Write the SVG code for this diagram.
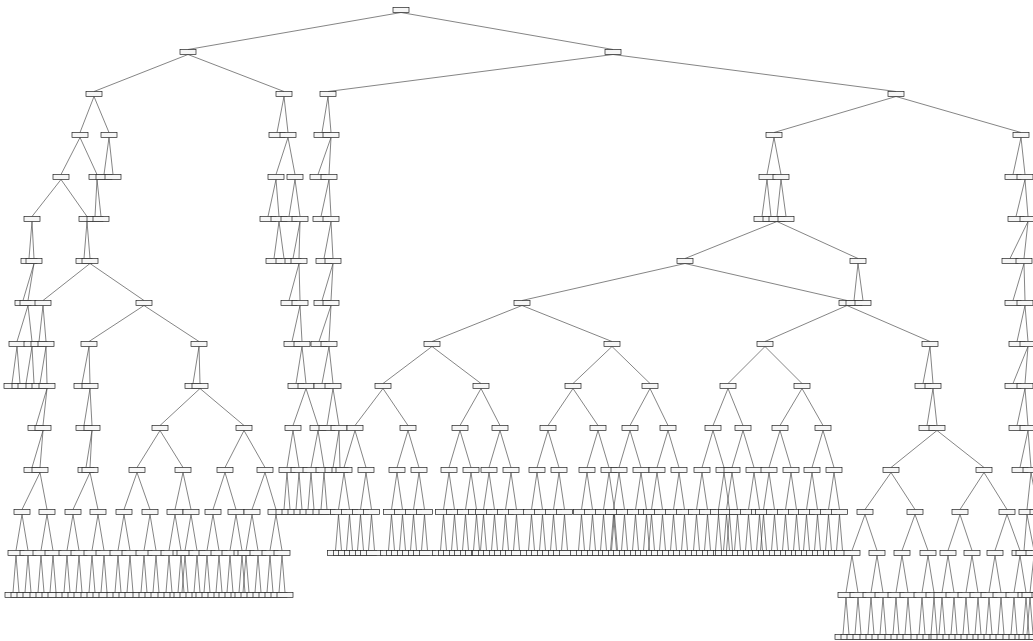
<svg xmlns="http://www.w3.org/2000/svg" width="1033" height="641" viewBox="0 0 1033 641">
<style>
.n rect{width:16px;height:5px;transform:translate(-8px,-2.5px);fill:#f6f6f6;stroke:#222;stroke-width:.7}
#edges path{fill:none;stroke:#333;stroke-width:.6}
</style>
<rect width="1033" height="641" fill="#fff"/>
<g id="edges">
<path d="M188 49.5L401 12.5L613 49.5"/>
<path d="M94 91.5L188 54.5L284 91.5"/><path d="M328 91.5L613 54.5L896 91.5"/>
<path d="M80 132.5L94 96.5L109 132.5"/><path d="M277 132.5L284 96.5L288 132.5"/><path d="M322 132.5L328 96.5L331 132.5"/><path d="M774 132.5L896 96.5L1021 132.5"/>
<path d="M61 174.5L80 137.5L97 174.5"/><path d="M104 174.5L109 137.5L113 174.5"/><path d="M276 174.5L288 137.5L295 174.5"/><path d="M318 174.5L331 137.5L329 174.5"/><path d="M767 174.5L774 137.5L781 174.5"/><path d="M1013 174.5L1021 137.5L1025 174.5"/>
<path d="M32 216.5L61 179.5L87 216.5"/><path d="M95 216.5L97 179.5L101 216.5"/><path d="M268 216.5L276 179.5L279 216.5"/><path d="M289 216.5L295 179.5L300 216.5"/><path d="M321 216.5L329 179.5L331 216.5"/><path d="M762 216.5L767 179.5L771 216.5"/><path d="M777 216.5L781 179.5L786 216.5"/><path d="M1016 216.5L1025 179.5L1028 216.5"/>
<path d="M29 258.5L32 221.5L34 258.5"/><path d="M84 258.5L87 221.5L90 258.5"/><path d="M274 258.5L279 221.5L284 258.5"/><path d="M293 258.5L300 221.5L299 258.5"/><path d="M324 258.5L331 221.5L333 258.5"/><path d="M685 258.5L777 221.5L858 258.5"/><path d="M1010 258.5L1028 221.5L1024 258.5"/>
<path d="M23 300.5L34 263.5L28 300.5"/><path d="M43 300.5L90 263.5L144 300.5"/><path d="M289 300.5L299 263.5L300 300.5"/><path d="M322 300.5L333 263.5L331 300.5"/><path d="M522 300.5L685 263.5L847 300.5"/><path d="M854 300.5L858 263.5L863 300.5"/><path d="M1013 300.5L1024 263.5L1025 300.5"/>
<path d="M17 341.5L28 305.5L32 341.5"/><path d="M39 341.5L43 305.5L46 341.5"/><path d="M89 341.5L144 305.5L199 341.5"/><path d="M292 341.5L300 305.5L302 341.5"/><path d="M319 341.5L331 305.5L329 341.5"/><path d="M432 341.5L522 305.5L612 341.5"/><path d="M765 341.5L847 305.5L930 341.5"/><path d="M1017 341.5L1025 305.5L1028 341.5"/>
<path d="M12 383.5L17 346.5L20 383.5"/><path d="M26 383.5L32 346.5L34 383.5"/><path d="M40 383.5L46 346.5L47 383.5"/><path d="M82 383.5L89 346.5L90 383.5"/><path d="M193 383.5L199 346.5L200 383.5"/><path d="M296 383.5L302 346.5L306 383.5"/><path d="M322 383.5L329 346.5L333 383.5"/><path d="M383 383.5L432 346.5L481 383.5"/><path d="M573 383.5L612 346.5L650 383.5"/><path d="M728 383.5L765 346.5L802 383.5"/><path d="M923 383.5L930 346.5L933 383.5"/><path d="M1013 383.5L1028 346.5L1025 383.5"/>
<path d="M36 425.5L47 388.5L43 425.5"/><path d="M84 425.5L90 388.5L92 425.5"/><path d="M160 425.5L200 388.5L244 425.5"/><path d="M293 425.5L306 388.5L318 425.5"/><path d="M327 425.5L333 388.5L339 425.5"/><path d="M355 425.5L383 388.5L408 425.5"/><path d="M460 425.5L481 388.5L500 425.5"/><path d="M548 425.5L573 388.5L598 425.5"/><path d="M630 425.5L650 388.5L668 425.5"/><path d="M713 425.5L728 388.5L743 425.5"/><path d="M780 425.5L802 388.5L823 425.5"/><path d="M927 425.5L933 388.5L937 425.5"/><path d="M1017 425.5L1025 388.5L1028 425.5"/>
<path d="M32 467.5L43 430.5L40 467.5"/><path d="M86 467.5L92 430.5L90 467.5"/><path d="M137 467.5L160 430.5L183 467.5"/><path d="M225 467.5L244 430.5L265 467.5"/><path d="M287 467.5L293 430.5L299 467.5"/><path d="M311 467.5L318 430.5L324 467.5"/><path d="M333 467.5L339 430.5L340 467.5"/><path d="M344 467.5L355 430.5L366 467.5"/><path d="M397 467.5L408 430.5L419 467.5"/><path d="M449 467.5L460 430.5L471 467.5"/><path d="M489 467.5L500 430.5L511 467.5"/><path d="M537 467.5L548 430.5L559 467.5"/><path d="M587 467.5L598 430.5L609 467.5"/><path d="M619 467.5L630 430.5L641 467.5"/><path d="M657 467.5L668 430.5L679 467.5"/><path d="M702 467.5L713 430.5L724 467.5"/><path d="M732 467.5L743 430.5L754 467.5"/><path d="M769 467.5L780 430.5L791 467.5"/><path d="M812 467.5L823 430.5L834 467.5"/><path d="M891 467.5L937 430.5L984 467.5"/><path d="M1020 467.5L1028 430.5L1031 467.5"/>
<path d="M22 509.5L40 472.5L47 509.5"/><path d="M73 509.5L90 472.5L98 509.5"/><path d="M124 509.5L137 472.5L150 509.5"/><path d="M175 509.5L183 472.5L191 509.5"/><path d="M213 509.5L225 472.5L236 509.5"/><path d="M252 509.5L265 472.5L276 509.5"/><path d="M284 509.5L287 472.5L290 509.5"/><path d="M296 509.5L299 472.5L302 509.5"/><path d="M308 509.5L311 472.5L314 509.5"/><path d="M321 509.5L324 472.5L327 509.5"/>
<path d="M338.5 509.5L344 472.5L349.5 509.5"/><path d="M360.5 509.5L366 472.5L371.5 509.5"/><path d="M391.5 509.5L397 472.5L402.5 509.5"/><path d="M413.5 509.5L419 472.5L424.5 509.5"/><path d="M443.5 509.5L449 472.5L454.5 509.5"/><path d="M465.5 509.5L471 472.5L476.5 509.5"/><path d="M483.5 509.5L489 472.5L494.5 509.5"/><path d="M505.5 509.5L511 472.5L516.5 509.5"/><path d="M531.5 509.5L537 472.5L542.5 509.5"/><path d="M553.5 509.5L559 472.5L564.5 509.5"/><path d="M581.5 509.5L587 472.5L592.5 509.5"/><path d="M603.5 509.5L609 472.5L614.5 509.5"/><path d="M613.5 509.5L619 472.5L624.5 509.5"/><path d="M635.5 509.5L641 472.5L646.5 509.5"/><path d="M651.5 509.5L657 472.5L662.5 509.5"/><path d="M673.5 509.5L679 472.5L684.5 509.5"/><path d="M696.5 509.5L702 472.5L707.5 509.5"/><path d="M718.5 509.5L724 472.5L729.5 509.5"/><path d="M726.5 509.5L732 472.5L737.5 509.5"/><path d="M748.5 509.5L754 472.5L759.5 509.5"/><path d="M763.5 509.5L769 472.5L774.5 509.5"/><path d="M785.5 509.5L791 472.5L796.5 509.5"/><path d="M806.5 509.5L812 472.5L817.5 509.5"/><path d="M828.5 509.5L834 472.5L839.5 509.5"/><path d="M865 509.5L891 472.5L915 509.5"/><path d="M960 509.5L984 472.5L1007 509.5"/><path d="M1027 509.5L1031 472.5L1038 509.5"/>
<path d="M16 550.5L22 514.5L28 550.5"/><path d="M41 550.5L47 514.5L53 550.5"/><path d="M67 550.5L73 514.5L79 550.5"/><path d="M92 550.5L98 514.5L104 550.5"/><path d="M118 550.5L124 514.5L130 550.5"/><path d="M144 550.5L150 514.5L156 550.5"/><path d="M169 550.5L175 514.5L181 550.5"/><path d="M185 550.5L191 514.5L197 550.5"/><path d="M207 550.5L213 514.5L219 550.5"/><path d="M230 550.5L236 514.5L242 550.5"/><path d="M246 550.5L252 514.5L258 550.5"/><path d="M270 550.5L276 514.5L282 550.5"/>
<path d="M335.5 550.5L338.5 514.5L341.5 550.5"/><path d="M346.5 550.5L349.5 514.5L352.5 550.5"/><path d="M357.5 550.5L360.5 514.5L363.5 550.5"/><path d="M368.5 550.5L371.5 514.5L374.5 550.5"/><path d="M388.5 550.5L391.5 514.5L394.5 550.5"/><path d="M399.5 550.5L402.5 514.5L405.5 550.5"/><path d="M410.5 550.5L413.5 514.5L416.5 550.5"/><path d="M421.5 550.5L424.5 514.5L427.5 550.5"/><path d="M440.5 550.5L443.5 514.5L446.5 550.5"/><path d="M451.5 550.5L454.5 514.5L457.5 550.5"/><path d="M462.5 550.5L465.5 514.5L468.5 550.5"/><path d="M473.5 550.5L476.5 514.5L479.5 550.5"/><path d="M480.5 550.5L483.5 514.5L486.5 550.5"/><path d="M491.5 550.5L494.5 514.5L497.5 550.5"/><path d="M502.5 550.5L505.5 514.5L508.5 550.5"/><path d="M513.5 550.5L516.5 514.5L519.5 550.5"/><path d="M528.5 550.5L531.5 514.5L534.5 550.5"/><path d="M539.5 550.5L542.5 514.5L545.5 550.5"/><path d="M550.5 550.5L553.5 514.5L556.5 550.5"/><path d="M561.5 550.5L564.5 514.5L567.5 550.5"/><path d="M578.5 550.5L581.5 514.5L584.5 550.5"/><path d="M589.5 550.5L592.5 514.5L595.5 550.5"/><path d="M600.5 550.5L603.5 514.5L606.5 550.5"/><path d="M611.5 550.5L614.5 514.5L617.5 550.5"/><path d="M610.5 550.5L613.5 514.5L616.5 550.5"/><path d="M621.5 550.5L624.5 514.5L627.5 550.5"/><path d="M632.5 550.5L635.5 514.5L638.5 550.5"/><path d="M643.5 550.5L646.5 514.5L649.5 550.5"/><path d="M648.5 550.5L651.5 514.5L654.5 550.5"/><path d="M659.5 550.5L662.5 514.5L665.5 550.5"/><path d="M670.5 550.5L673.5 514.5L676.5 550.5"/><path d="M681.5 550.5L684.5 514.5L687.5 550.5"/><path d="M693.5 550.5L696.5 514.5L699.5 550.5"/><path d="M704.5 550.5L707.5 514.5L710.5 550.5"/><path d="M715.5 550.5L718.5 514.5L721.5 550.5"/><path d="M726.5 550.5L729.5 514.5L732.5 550.5"/><path d="M723.5 550.5L726.5 514.5L729.5 550.5"/><path d="M734.5 550.5L737.5 514.5L740.5 550.5"/><path d="M745.5 550.5L748.5 514.5L751.5 550.5"/><path d="M756.5 550.5L759.5 514.5L762.5 550.5"/><path d="M760.5 550.5L763.5 514.5L766.5 550.5"/><path d="M771.5 550.5L774.5 514.5L777.5 550.5"/><path d="M782.5 550.5L785.5 514.5L788.5 550.5"/><path d="M793.5 550.5L796.5 514.5L799.5 550.5"/><path d="M803.5 550.5L806.5 514.5L809.5 550.5"/><path d="M814.5 550.5L817.5 514.5L820.5 550.5"/><path d="M825.5 550.5L828.5 514.5L831.5 550.5"/><path d="M836.5 550.5L839.5 514.5L842.5 550.5"/>
<path d="M852 550.5L865 514.5L877 550.5"/><path d="M902 550.5L915 514.5L928 550.5"/><path d="M948 550.5L960 514.5L972 550.5"/><path d="M995 550.5L1007 514.5L1020 550.5"/><path d="M1024 550.5L1027 514.5L1034 550.5"/>
<path d="M13 592.5L16 555.5L19 592.5"/><path d="M25 592.5L28 555.5L31 592.5"/><path d="M38 592.5L41 555.5L44 592.5"/><path d="M50 592.5L53 555.5L56 592.5"/><path d="M64 592.5L67 555.5L70 592.5"/><path d="M76 592.5L79 555.5L82 592.5"/><path d="M89 592.5L92 555.5L95 592.5"/><path d="M101 592.5L104 555.5L107 592.5"/><path d="M115 592.5L118 555.5L121 592.5"/><path d="M127 592.5L130 555.5L133 592.5"/><path d="M141 592.5L144 555.5L147 592.5"/><path d="M153 592.5L156 555.5L159 592.5"/><path d="M166 592.5L169 555.5L172 592.5"/><path d="M178 592.5L181 555.5L184 592.5"/><path d="M182 592.5L185 555.5L188 592.5"/><path d="M194 592.5L197 555.5L200 592.5"/><path d="M204 592.5L207 555.5L210 592.5"/><path d="M216 592.5L219 555.5L222 592.5"/><path d="M227 592.5L230 555.5L233 592.5"/><path d="M239 592.5L242 555.5L245 592.5"/><path d="M243 592.5L246 555.5L249 592.5"/><path d="M255 592.5L258 555.5L261 592.5"/><path d="M267 592.5L270 555.5L273 592.5"/><path d="M279 592.5L282 555.5L285 592.5"/>
<path d="M846 592.5L852 555.5L858 592.5"/><path d="M871 592.5L877 555.5L883 592.5"/><path d="M896 592.5L902 555.5L908 592.5"/><path d="M922 592.5L928 555.5L934 592.5"/><path d="M942 592.5L948 555.5L954 592.5"/><path d="M966 592.5L972 555.5L978 592.5"/><path d="M989 592.5L995 555.5L1001 592.5"/><path d="M1014 592.5L1020 555.5L1026 592.5"/><path d="M1030 592.5L1034 555.5L1040 592.5"/>
<path d="M843 634.5L846 597.5L849 634.5"/><path d="M855 634.5L858 597.5L861 634.5"/><path d="M868 634.5L871 597.5L874 634.5"/><path d="M880 634.5L883 597.5L886 634.5"/><path d="M893 634.5L896 597.5L899 634.5"/><path d="M905 634.5L908 597.5L911 634.5"/><path d="M919 634.5L922 597.5L925 634.5"/><path d="M931 634.5L934 597.5L937 634.5"/><path d="M939 634.5L942 597.5L945 634.5"/><path d="M951 634.5L954 597.5L957 634.5"/><path d="M963 634.5L966 597.5L969 634.5"/><path d="M975 634.5L978 597.5L981 634.5"/><path d="M986 634.5L989 597.5L992 634.5"/><path d="M998 634.5L1001 597.5L1004 634.5"/><path d="M1011 634.5L1014 597.5L1017 634.5"/><path d="M1023 634.5L1026 597.5L1029 634.5"/><path d="M1027 634.5L1030 597.5L1033 634.5"/><path d="M1037 634.5L1040 597.5L1043 634.5"/>
</g>
<g id="nodes" class="n">
<g id="n0-0"><rect x="401" y="10"/></g>
<g id="n1-0"><rect x="188" y="52"/></g><g id="n1-1"><rect x="613" y="52"/></g>
<g id="n2-0"><rect x="94" y="94"/></g><g id="n2-1"><rect x="284" y="94"/></g><g id="n2-2"><rect x="328" y="94"/></g><g id="n2-3"><rect x="896" y="94"/></g>
<g id="n3-0"><rect x="80" y="135"/></g><g id="n3-1"><rect x="109" y="135"/></g><g id="n3-2"><rect x="277" y="135"/></g><g id="n3-3"><rect x="288" y="135"/></g><g id="n3-4"><rect x="322" y="135"/></g><g id="n3-5"><rect x="331" y="135"/></g><g id="n3-6"><rect x="774" y="135"/></g><g id="n3-7"><rect x="1021" y="135"/></g>
<g id="n4-0"><rect x="61" y="177"/></g><g id="n4-1"><rect x="97" y="177"/></g><g id="n4-2"><rect x="104" y="177"/></g><g id="n4-3"><rect x="113" y="177"/></g><g id="n4-4"><rect x="276" y="177"/></g><g id="n4-5"><rect x="295" y="177"/></g><g id="n4-6"><rect x="318" y="177"/></g><g id="n4-7"><rect x="329" y="177"/></g><g id="n4-8"><rect x="767" y="177"/></g><g id="n4-9"><rect x="781" y="177"/></g><g id="n4-10"><rect x="1013" y="177"/></g><g id="n4-11"><rect x="1025" y="177"/></g>
<g id="n5-0"><rect x="32" y="219"/></g><g id="n5-1"><rect x="87" y="219"/></g><g id="n5-2"><rect x="95" y="219"/></g><g id="n5-3"><rect x="101" y="219"/></g><g id="n5-4"><rect x="268" y="219"/></g><g id="n5-5"><rect x="279" y="219"/></g><g id="n5-6"><rect x="289" y="219"/></g><g id="n5-7"><rect x="300" y="219"/></g><g id="n5-8"><rect x="321" y="219"/></g><g id="n5-9"><rect x="331" y="219"/></g><g id="n5-10"><rect x="762" y="219"/></g><g id="n5-11"><rect x="771" y="219"/></g><g id="n5-12"><rect x="777" y="219"/></g><g id="n5-13"><rect x="786" y="219"/></g><g id="n5-14"><rect x="1016" y="219"/></g><g id="n5-15"><rect x="1028" y="219"/></g>
<g id="n6-0"><rect x="29" y="261"/></g><g id="n6-1"><rect x="34" y="261"/></g><g id="n6-2"><rect x="84" y="261"/></g><g id="n6-3"><rect x="90" y="261"/></g><g id="n6-4"><rect x="274" y="261"/></g><g id="n6-5"><rect x="284" y="261"/></g><g id="n6-6"><rect x="293" y="261"/></g><g id="n6-7"><rect x="299" y="261"/></g><g id="n6-8"><rect x="324" y="261"/></g><g id="n6-9"><rect x="333" y="261"/></g><g id="n6-10"><rect x="685" y="261"/></g><g id="n6-11"><rect x="858" y="261"/></g><g id="n6-12"><rect x="1010" y="261"/></g><g id="n6-13"><rect x="1024" y="261"/></g>
<g id="n7-0"><rect x="23" y="303"/></g><g id="n7-1"><rect x="28" y="303"/></g><g id="n7-2"><rect x="43" y="303"/></g><g id="n7-3"><rect x="144" y="303"/></g><g id="n7-4"><rect x="289" y="303"/></g><g id="n7-5"><rect x="300" y="303"/></g><g id="n7-6"><rect x="322" y="303"/></g><g id="n7-7"><rect x="331" y="303"/></g><g id="n7-8"><rect x="522" y="303"/></g><g id="n7-9"><rect x="847" y="303"/></g><g id="n7-10"><rect x="854" y="303"/></g><g id="n7-11"><rect x="863" y="303"/></g><g id="n7-12"><rect x="1013" y="303"/></g><g id="n7-13"><rect x="1025" y="303"/></g>
<g id="n8-0"><rect x="17" y="344"/></g><g id="n8-1"><rect x="32" y="344"/></g><g id="n8-2"><rect x="39" y="344"/></g><g id="n8-3"><rect x="46" y="344"/></g><g id="n8-4"><rect x="89" y="344"/></g><g id="n8-5"><rect x="199" y="344"/></g><g id="n8-6"><rect x="292" y="344"/></g><g id="n8-7"><rect x="302" y="344"/></g><g id="n8-8"><rect x="319" y="344"/></g><g id="n8-9"><rect x="329" y="344"/></g><g id="n8-10"><rect x="432" y="344"/></g><g id="n8-11"><rect x="612" y="344"/></g><g id="n8-12"><rect x="765" y="344"/></g><g id="n8-13"><rect x="930" y="344"/></g><g id="n8-14"><rect x="1017" y="344"/></g><g id="n8-15"><rect x="1028" y="344"/></g>
<g id="n9-0"><rect x="12" y="386"/></g><g id="n9-1"><rect x="20" y="386"/></g><g id="n9-2"><rect x="26" y="386"/></g><g id="n9-3"><rect x="34" y="386"/></g><g id="n9-4"><rect x="40" y="386"/></g><g id="n9-5"><rect x="47" y="386"/></g><g id="n9-6"><rect x="82" y="386"/></g><g id="n9-7"><rect x="90" y="386"/></g><g id="n9-8"><rect x="193" y="386"/></g><g id="n9-9"><rect x="200" y="386"/></g><g id="n9-10"><rect x="296" y="386"/></g><g id="n9-11"><rect x="306" y="386"/></g><g id="n9-12"><rect x="322" y="386"/></g><g id="n9-13"><rect x="333" y="386"/></g><g id="n9-14"><rect x="383" y="386"/></g><g id="n9-15"><rect x="481" y="386"/></g><g id="n9-16"><rect x="573" y="386"/></g><g id="n9-17"><rect x="650" y="386"/></g><g id="n9-18"><rect x="728" y="386"/></g><g id="n9-19"><rect x="802" y="386"/></g><g id="n9-20"><rect x="923" y="386"/></g><g id="n9-21"><rect x="933" y="386"/></g><g id="n9-22"><rect x="1013" y="386"/></g><g id="n9-23"><rect x="1025" y="386"/></g>
<g id="n10-0"><rect x="36" y="428"/></g><g id="n10-1"><rect x="43" y="428"/></g><g id="n10-2"><rect x="84" y="428"/></g><g id="n10-3"><rect x="92" y="428"/></g><g id="n10-4"><rect x="160" y="428"/></g><g id="n10-5"><rect x="244" y="428"/></g><g id="n10-6"><rect x="293" y="428"/></g><g id="n10-7"><rect x="318" y="428"/></g><g id="n10-8"><rect x="327" y="428"/></g><g id="n10-9"><rect x="339" y="428"/></g><g id="n10-10"><rect x="355" y="428"/></g><g id="n10-11"><rect x="408" y="428"/></g><g id="n10-12"><rect x="460" y="428"/></g><g id="n10-13"><rect x="500" y="428"/></g><g id="n10-14"><rect x="548" y="428"/></g><g id="n10-15"><rect x="598" y="428"/></g><g id="n10-16"><rect x="630" y="428"/></g><g id="n10-17"><rect x="668" y="428"/></g><g id="n10-18"><rect x="713" y="428"/></g><g id="n10-19"><rect x="743" y="428"/></g><g id="n10-20"><rect x="780" y="428"/></g><g id="n10-21"><rect x="823" y="428"/></g><g id="n10-22"><rect x="927" y="428"/></g><g id="n10-23"><rect x="937" y="428"/></g><g id="n10-24"><rect x="1017" y="428"/></g><g id="n10-25"><rect x="1028" y="428"/></g>
<g id="n11-0"><rect x="32" y="470"/></g><g id="n11-1"><rect x="40" y="470"/></g><g id="n11-2"><rect x="86" y="470"/></g><g id="n11-3"><rect x="90" y="470"/></g><g id="n11-4"><rect x="137" y="470"/></g><g id="n11-5"><rect x="183" y="470"/></g><g id="n11-6"><rect x="225" y="470"/></g><g id="n11-7"><rect x="265" y="470"/></g><g id="n11-8"><rect x="287" y="470"/></g><g id="n11-9"><rect x="299" y="470"/></g><g id="n11-10"><rect x="311" y="470"/></g><g id="n11-11"><rect x="324" y="470"/></g><g id="n11-12"><rect x="333" y="470"/></g><g id="n11-13"><rect x="340" y="470"/></g><g id="n11-14"><rect x="344" y="470"/></g><g id="n11-15"><rect x="366" y="470"/></g><g id="n11-16"><rect x="397" y="470"/></g><g id="n11-17"><rect x="419" y="470"/></g><g id="n11-18"><rect x="449" y="470"/></g><g id="n11-19"><rect x="471" y="470"/></g><g id="n11-20"><rect x="489" y="470"/></g><g id="n11-21"><rect x="511" y="470"/></g><g id="n11-22"><rect x="537" y="470"/></g><g id="n11-23"><rect x="559" y="470"/></g><g id="n11-24"><rect x="587" y="470"/></g><g id="n11-25"><rect x="609" y="470"/></g><g id="n11-26"><rect x="619" y="470"/></g><g id="n11-27"><rect x="641" y="470"/></g><g id="n11-28"><rect x="657" y="470"/></g><g id="n11-29"><rect x="679" y="470"/></g><g id="n11-30"><rect x="702" y="470"/></g><g id="n11-31"><rect x="724" y="470"/></g><g id="n11-32"><rect x="732" y="470"/></g><g id="n11-33"><rect x="754" y="470"/></g><g id="n11-34"><rect x="769" y="470"/></g><g id="n11-35"><rect x="791" y="470"/></g><g id="n11-36"><rect x="812" y="470"/></g><g id="n11-37"><rect x="834" y="470"/></g><g id="n11-38"><rect x="891" y="470"/></g><g id="n11-39"><rect x="984" y="470"/></g><g id="n11-40"><rect x="1020" y="470"/></g><g id="n11-41"><rect x="1031" y="470"/></g>
<g id="n12-0"><rect x="22" y="512"/></g><g id="n12-1"><rect x="47" y="512"/></g><g id="n12-2"><rect x="73" y="512"/></g><g id="n12-3"><rect x="98" y="512"/></g><g id="n12-4"><rect x="124" y="512"/></g><g id="n12-5"><rect x="150" y="512"/></g><g id="n12-6"><rect x="175" y="512"/></g><g id="n12-7"><rect x="191" y="512"/></g><g id="n12-8"><rect x="213" y="512"/></g><g id="n12-9"><rect x="236" y="512"/></g><g id="n12-10"><rect x="252" y="512"/></g><g id="n12-11"><rect x="276" y="512"/></g><g id="n12-12"><rect x="284" y="512"/></g><g id="n12-13"><rect x="290" y="512"/></g><g id="n12-14"><rect x="296" y="512"/></g><g id="n12-15"><rect x="302" y="512"/></g><g id="n12-16"><rect x="308" y="512"/></g><g id="n12-17"><rect x="314" y="512"/></g><g id="n12-18"><rect x="321" y="512"/></g><g id="n12-19"><rect x="327" y="512"/></g>
<g id="n12-20"><rect x="338.5" y="512"/></g><g id="n12-21"><rect x="349.5" y="512"/></g><g id="n12-22"><rect x="360.5" y="512"/></g><g id="n12-23"><rect x="371.5" y="512"/></g><g id="n12-24"><rect x="391.5" y="512"/></g><g id="n12-25"><rect x="402.5" y="512"/></g><g id="n12-26"><rect x="413.5" y="512"/></g><g id="n12-27"><rect x="424.5" y="512"/></g><g id="n12-28"><rect x="443.5" y="512"/></g><g id="n12-29"><rect x="454.5" y="512"/></g><g id="n12-30"><rect x="465.5" y="512"/></g><g id="n12-31"><rect x="476.5" y="512"/></g><g id="n12-32"><rect x="483.5" y="512"/></g><g id="n12-33"><rect x="494.5" y="512"/></g><g id="n12-34"><rect x="505.5" y="512"/></g><g id="n12-35"><rect x="516.5" y="512"/></g><g id="n12-36"><rect x="531.5" y="512"/></g><g id="n12-37"><rect x="542.5" y="512"/></g><g id="n12-38"><rect x="553.5" y="512"/></g><g id="n12-39"><rect x="564.5" y="512"/></g><g id="n12-40"><rect x="581.5" y="512"/></g><g id="n12-41"><rect x="592.5" y="512"/></g><g id="n12-42"><rect x="603.5" y="512"/></g><g id="n12-43"><rect x="614.5" y="512"/></g><g id="n12-44"><rect x="613.5" y="512"/></g><g id="n12-45"><rect x="624.5" y="512"/></g><g id="n12-46"><rect x="635.5" y="512"/></g><g id="n12-47"><rect x="646.5" y="512"/></g><g id="n12-48"><rect x="651.5" y="512"/></g><g id="n12-49"><rect x="662.5" y="512"/></g><g id="n12-50"><rect x="673.5" y="512"/></g><g id="n12-51"><rect x="684.5" y="512"/></g><g id="n12-52"><rect x="696.5" y="512"/></g><g id="n12-53"><rect x="707.5" y="512"/></g><g id="n12-54"><rect x="718.5" y="512"/></g><g id="n12-55"><rect x="729.5" y="512"/></g><g id="n12-56"><rect x="726.5" y="512"/></g><g id="n12-57"><rect x="737.5" y="512"/></g><g id="n12-58"><rect x="748.5" y="512"/></g><g id="n12-59"><rect x="759.5" y="512"/></g><g id="n12-60"><rect x="763.5" y="512"/></g><g id="n12-61"><rect x="774.5" y="512"/></g><g id="n12-62"><rect x="785.5" y="512"/></g><g id="n12-63"><rect x="796.5" y="512"/></g><g id="n12-64"><rect x="806.5" y="512"/></g><g id="n12-65"><rect x="817.5" y="512"/></g><g id="n12-66"><rect x="828.5" y="512"/></g><g id="n12-67"><rect x="839.5" y="512"/></g>
<g id="n12-68"><rect x="865" y="512"/></g><g id="n12-69"><rect x="915" y="512"/></g><g id="n12-70"><rect x="960" y="512"/></g><g id="n12-71"><rect x="1007" y="512"/></g><g id="n12-72"><rect x="1027" y="512"/></g><g id="n12-73"><rect x="1038" y="512"/></g>
<g id="n13-0"><rect x="16" y="553"/></g><g id="n13-1"><rect x="28" y="553"/></g><g id="n13-2"><rect x="41" y="553"/></g><g id="n13-3"><rect x="53" y="553"/></g><g id="n13-4"><rect x="67" y="553"/></g><g id="n13-5"><rect x="79" y="553"/></g><g id="n13-6"><rect x="92" y="553"/></g><g id="n13-7"><rect x="104" y="553"/></g><g id="n13-8"><rect x="118" y="553"/></g><g id="n13-9"><rect x="130" y="553"/></g><g id="n13-10"><rect x="144" y="553"/></g><g id="n13-11"><rect x="156" y="553"/></g><g id="n13-12"><rect x="169" y="553"/></g><g id="n13-13"><rect x="181" y="553"/></g><g id="n13-14"><rect x="185" y="553"/></g><g id="n13-15"><rect x="197" y="553"/></g><g id="n13-16"><rect x="207" y="553"/></g><g id="n13-17"><rect x="219" y="553"/></g><g id="n13-18"><rect x="230" y="553"/></g><g id="n13-19"><rect x="242" y="553"/></g><g id="n13-20"><rect x="246" y="553"/></g><g id="n13-21"><rect x="258" y="553"/></g><g id="n13-22"><rect x="270" y="553"/></g><g id="n13-23"><rect x="282" y="553"/></g>
<g id="n13-24"><rect x="335.5" y="553"/></g><g id="n13-25"><rect x="341.5" y="553"/></g><g id="n13-26"><rect x="346.5" y="553"/></g><g id="n13-27"><rect x="352.5" y="553"/></g><g id="n13-28"><rect x="357.5" y="553"/></g><g id="n13-29"><rect x="363.5" y="553"/></g><g id="n13-30"><rect x="368.5" y="553"/></g><g id="n13-31"><rect x="374.5" y="553"/></g><g id="n13-32"><rect x="388.5" y="553"/></g><g id="n13-33"><rect x="394.5" y="553"/></g><g id="n13-34"><rect x="399.5" y="553"/></g><g id="n13-35"><rect x="405.5" y="553"/></g><g id="n13-36"><rect x="410.5" y="553"/></g><g id="n13-37"><rect x="416.5" y="553"/></g><g id="n13-38"><rect x="421.5" y="553"/></g><g id="n13-39"><rect x="427.5" y="553"/></g><g id="n13-40"><rect x="440.5" y="553"/></g><g id="n13-41"><rect x="446.5" y="553"/></g><g id="n13-42"><rect x="451.5" y="553"/></g><g id="n13-43"><rect x="457.5" y="553"/></g><g id="n13-44"><rect x="462.5" y="553"/></g><g id="n13-45"><rect x="468.5" y="553"/></g><g id="n13-46"><rect x="473.5" y="553"/></g><g id="n13-47"><rect x="479.5" y="553"/></g><g id="n13-48"><rect x="480.5" y="553"/></g><g id="n13-49"><rect x="486.5" y="553"/></g><g id="n13-50"><rect x="491.5" y="553"/></g><g id="n13-51"><rect x="497.5" y="553"/></g><g id="n13-52"><rect x="502.5" y="553"/></g><g id="n13-53"><rect x="508.5" y="553"/></g><g id="n13-54"><rect x="513.5" y="553"/></g><g id="n13-55"><rect x="519.5" y="553"/></g><g id="n13-56"><rect x="528.5" y="553"/></g><g id="n13-57"><rect x="534.5" y="553"/></g><g id="n13-58"><rect x="539.5" y="553"/></g><g id="n13-59"><rect x="545.5" y="553"/></g><g id="n13-60"><rect x="550.5" y="553"/></g><g id="n13-61"><rect x="556.5" y="553"/></g><g id="n13-62"><rect x="561.5" y="553"/></g><g id="n13-63"><rect x="567.5" y="553"/></g><g id="n13-64"><rect x="578.5" y="553"/></g><g id="n13-65"><rect x="584.5" y="553"/></g><g id="n13-66"><rect x="589.5" y="553"/></g><g id="n13-67"><rect x="595.5" y="553"/></g><g id="n13-68"><rect x="600.5" y="553"/></g><g id="n13-69"><rect x="606.5" y="553"/></g><g id="n13-70"><rect x="611.5" y="553"/></g><g id="n13-71"><rect x="617.5" y="553"/></g><g id="n13-72"><rect x="610.5" y="553"/></g><g id="n13-73"><rect x="616.5" y="553"/></g><g id="n13-74"><rect x="621.5" y="553"/></g><g id="n13-75"><rect x="627.5" y="553"/></g><g id="n13-76"><rect x="632.5" y="553"/></g><g id="n13-77"><rect x="638.5" y="553"/></g><g id="n13-78"><rect x="643.5" y="553"/></g><g id="n13-79"><rect x="649.5" y="553"/></g><g id="n13-80"><rect x="648.5" y="553"/></g><g id="n13-81"><rect x="654.5" y="553"/></g><g id="n13-82"><rect x="659.5" y="553"/></g><g id="n13-83"><rect x="665.5" y="553"/></g><g id="n13-84"><rect x="670.5" y="553"/></g><g id="n13-85"><rect x="676.5" y="553"/></g><g id="n13-86"><rect x="681.5" y="553"/></g><g id="n13-87"><rect x="687.5" y="553"/></g><g id="n13-88"><rect x="693.5" y="553"/></g><g id="n13-89"><rect x="699.5" y="553"/></g><g id="n13-90"><rect x="704.5" y="553"/></g><g id="n13-91"><rect x="710.5" y="553"/></g><g id="n13-92"><rect x="715.5" y="553"/></g><g id="n13-93"><rect x="721.5" y="553"/></g><g id="n13-94"><rect x="726.5" y="553"/></g><g id="n13-95"><rect x="732.5" y="553"/></g><g id="n13-96"><rect x="723.5" y="553"/></g><g id="n13-97"><rect x="729.5" y="553"/></g><g id="n13-98"><rect x="734.5" y="553"/></g><g id="n13-99"><rect x="740.5" y="553"/></g><g id="n13-100"><rect x="745.5" y="553"/></g><g id="n13-101"><rect x="751.5" y="553"/></g><g id="n13-102"><rect x="756.5" y="553"/></g><g id="n13-103"><rect x="762.5" y="553"/></g><g id="n13-104"><rect x="760.5" y="553"/></g><g id="n13-105"><rect x="766.5" y="553"/></g><g id="n13-106"><rect x="771.5" y="553"/></g><g id="n13-107"><rect x="777.5" y="553"/></g><g id="n13-108"><rect x="782.5" y="553"/></g><g id="n13-109"><rect x="788.5" y="553"/></g><g id="n13-110"><rect x="793.5" y="553"/></g><g id="n13-111"><rect x="799.5" y="553"/></g><g id="n13-112"><rect x="803.5" y="553"/></g><g id="n13-113"><rect x="809.5" y="553"/></g><g id="n13-114"><rect x="814.5" y="553"/></g><g id="n13-115"><rect x="820.5" y="553"/></g><g id="n13-116"><rect x="825.5" y="553"/></g><g id="n13-117"><rect x="831.5" y="553"/></g><g id="n13-118"><rect x="836.5" y="553"/></g><g id="n13-119"><rect x="842.5" y="553"/></g>
<g id="n13-120"><rect x="852" y="553"/></g><g id="n13-121"><rect x="877" y="553"/></g><g id="n13-122"><rect x="902" y="553"/></g><g id="n13-123"><rect x="928" y="553"/></g><g id="n13-124"><rect x="948" y="553"/></g><g id="n13-125"><rect x="972" y="553"/></g><g id="n13-126"><rect x="995" y="553"/></g><g id="n13-127"><rect x="1020" y="553"/></g><g id="n13-128"><rect x="1024" y="553"/></g><g id="n13-129"><rect x="1034" y="553"/></g>
<g id="n14-0"><rect x="13" y="595"/></g><g id="n14-1"><rect x="19" y="595"/></g><g id="n14-2"><rect x="25" y="595"/></g><g id="n14-3"><rect x="31" y="595"/></g><g id="n14-4"><rect x="38" y="595"/></g><g id="n14-5"><rect x="44" y="595"/></g><g id="n14-6"><rect x="50" y="595"/></g><g id="n14-7"><rect x="56" y="595"/></g><g id="n14-8"><rect x="64" y="595"/></g><g id="n14-9"><rect x="70" y="595"/></g><g id="n14-10"><rect x="76" y="595"/></g><g id="n14-11"><rect x="82" y="595"/></g><g id="n14-12"><rect x="89" y="595"/></g><g id="n14-13"><rect x="95" y="595"/></g><g id="n14-14"><rect x="101" y="595"/></g><g id="n14-15"><rect x="107" y="595"/></g><g id="n14-16"><rect x="115" y="595"/></g><g id="n14-17"><rect x="121" y="595"/></g><g id="n14-18"><rect x="127" y="595"/></g><g id="n14-19"><rect x="133" y="595"/></g><g id="n14-20"><rect x="141" y="595"/></g><g id="n14-21"><rect x="147" y="595"/></g><g id="n14-22"><rect x="153" y="595"/></g><g id="n14-23"><rect x="159" y="595"/></g><g id="n14-24"><rect x="166" y="595"/></g><g id="n14-25"><rect x="172" y="595"/></g><g id="n14-26"><rect x="178" y="595"/></g><g id="n14-27"><rect x="184" y="595"/></g><g id="n14-28"><rect x="182" y="595"/></g><g id="n14-29"><rect x="188" y="595"/></g><g id="n14-30"><rect x="194" y="595"/></g><g id="n14-31"><rect x="200" y="595"/></g><g id="n14-32"><rect x="204" y="595"/></g><g id="n14-33"><rect x="210" y="595"/></g><g id="n14-34"><rect x="216" y="595"/></g><g id="n14-35"><rect x="222" y="595"/></g><g id="n14-36"><rect x="227" y="595"/></g><g id="n14-37"><rect x="233" y="595"/></g><g id="n14-38"><rect x="239" y="595"/></g><g id="n14-39"><rect x="245" y="595"/></g><g id="n14-40"><rect x="243" y="595"/></g><g id="n14-41"><rect x="249" y="595"/></g><g id="n14-42"><rect x="255" y="595"/></g><g id="n14-43"><rect x="261" y="595"/></g><g id="n14-44"><rect x="267" y="595"/></g><g id="n14-45"><rect x="273" y="595"/></g><g id="n14-46"><rect x="279" y="595"/></g><g id="n14-47"><rect x="285" y="595"/></g>
<g id="n14-48"><rect x="846" y="595"/></g><g id="n14-49"><rect x="858" y="595"/></g><g id="n14-50"><rect x="871" y="595"/></g><g id="n14-51"><rect x="883" y="595"/></g><g id="n14-52"><rect x="896" y="595"/></g><g id="n14-53"><rect x="908" y="595"/></g><g id="n14-54"><rect x="922" y="595"/></g><g id="n14-55"><rect x="934" y="595"/></g><g id="n14-56"><rect x="942" y="595"/></g><g id="n14-57"><rect x="954" y="595"/></g><g id="n14-58"><rect x="966" y="595"/></g><g id="n14-59"><rect x="978" y="595"/></g><g id="n14-60"><rect x="989" y="595"/></g><g id="n14-61"><rect x="1001" y="595"/></g><g id="n14-62"><rect x="1014" y="595"/></g><g id="n14-63"><rect x="1026" y="595"/></g><g id="n14-64"><rect x="1030" y="595"/></g><g id="n14-65"><rect x="1040" y="595"/></g>
<g id="n15-0"><rect x="843" y="637"/></g><g id="n15-1"><rect x="849" y="637"/></g><g id="n15-2"><rect x="855" y="637"/></g><g id="n15-3"><rect x="861" y="637"/></g><g id="n15-4"><rect x="868" y="637"/></g><g id="n15-5"><rect x="874" y="637"/></g><g id="n15-6"><rect x="880" y="637"/></g><g id="n15-7"><rect x="886" y="637"/></g><g id="n15-8"><rect x="893" y="637"/></g><g id="n15-9"><rect x="899" y="637"/></g><g id="n15-10"><rect x="905" y="637"/></g><g id="n15-11"><rect x="911" y="637"/></g><g id="n15-12"><rect x="919" y="637"/></g><g id="n15-13"><rect x="925" y="637"/></g><g id="n15-14"><rect x="931" y="637"/></g><g id="n15-15"><rect x="937" y="637"/></g><g id="n15-16"><rect x="939" y="637"/></g><g id="n15-17"><rect x="945" y="637"/></g><g id="n15-18"><rect x="951" y="637"/></g><g id="n15-19"><rect x="957" y="637"/></g><g id="n15-20"><rect x="963" y="637"/></g><g id="n15-21"><rect x="969" y="637"/></g><g id="n15-22"><rect x="975" y="637"/></g><g id="n15-23"><rect x="981" y="637"/></g><g id="n15-24"><rect x="986" y="637"/></g><g id="n15-25"><rect x="992" y="637"/></g><g id="n15-26"><rect x="998" y="637"/></g><g id="n15-27"><rect x="1004" y="637"/></g><g id="n15-28"><rect x="1011" y="637"/></g><g id="n15-29"><rect x="1017" y="637"/></g><g id="n15-30"><rect x="1023" y="637"/></g><g id="n15-31"><rect x="1029" y="637"/></g><g id="n15-32"><rect x="1027" y="637"/></g><g id="n15-33"><rect x="1033" y="637"/></g><g id="n15-34"><rect x="1037" y="637"/></g><g id="n15-35"><rect x="1043" y="637"/></g>
</g>
</svg>
